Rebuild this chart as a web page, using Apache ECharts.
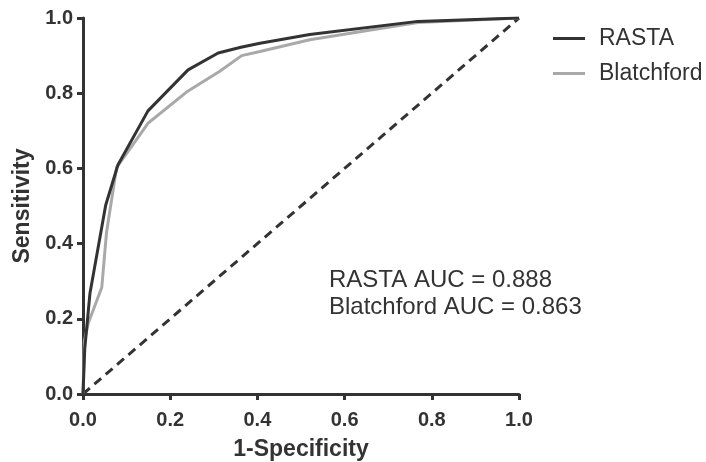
<!DOCTYPE html>
<html>
<head>
<meta charset="utf-8">
<script src="https://cdn.jsdelivr.net/npm/echarts@6/dist/echarts.min.js"></script>
<style>
  html, body { margin: 0; padding: 0; background: #fff; }
  #chart { width: 706px; height: 462px; }
</style>
</head>
<body>
<div id="chart"></div>
<script>
// ROC curves: 1-specificity (x) vs sensitivity (y)
const rastaX = [0, 0.004, 0.016, 0.052, 0.080, 0.149, 0.241, 0.310, 0.362, 0.406, 0.520, 0.768, 1.0];
const rastaY = [0, 0.120, 0.268, 0.502, 0.609, 0.753, 0.862, 0.907, 0.922, 0.933, 0.956, 0.991, 1.0];

const blatchX = [0, 0.003, 0.012, 0.043, 0.054, 0.077, 0.149, 0.241, 0.312, 0.364, 0.406, 0.520, 0.768, 1.0];
const blatchY = [0, 0.140, 0.188, 0.283, 0.430, 0.602, 0.720, 0.806, 0.857, 0.900, 0.911, 0.942, 0.988, 1.0];

const refX = [0, 1];
const refY = [0, 1];

const tickValues = [0, 0.2, 0.4, 0.6, 0.8, 1.0];
const aucLines = ['RASTA AUC = 0.888', 'Blatchford AUC = 0.863'];

const dark = '#333333';
const grey = '#a9a9a9';
const font = "'Liberation Sans', Arial, Helvetica, sans-serif";

const pairs = (xs, ys) => xs.map((x, i) => [x, ys[i]]);

const axisCommon = {
  type: 'value',
  min: 0,
  max: 1,
  interval: 0.2,
  nameLocation: 'middle',
  nameTextStyle: { fontFamily: font, fontSize: 23, fontWeight: 'bold', color: dark },
  axisLine: { show: true, lineStyle: { color: dark, width: 3 } },
  axisTick: { show: true, inside: false, length: 6, lineStyle: { color: dark, width: 3 } },
  axisLabel: {
    fontFamily: font, fontSize: 20, fontWeight: 'bold', color: dark,
    formatter: v => tickValues.some(t => Math.abs(t - v) < 1e-9) ? v.toFixed(1) : ''
  },
  splitLine: { show: false }
};

const chart = echarts.init(document.getElementById('chart'), null, { renderer: 'canvas' });
chart.setOption({
  animation: false,
  backgroundColor: '#ffffff',
  grid: { left: 83, right: 187, top: 18, bottom: 68, containLabel: false, outerBoundsMode: 'none' },
  xAxis: Object.assign({}, axisCommon, {
    name: '1-Specificity', nameGap: 44,
    axisLabel: Object.assign({}, axisCommon.axisLabel, { margin: 16 })
  }),
  yAxis: Object.assign({}, axisCommon, {
    name: 'Sensitivity', nameGap: 47, nameRotate: 90,
    axisLabel: Object.assign({}, axisCommon.axisLabel, { margin: 10 })
  }),
  legend: {
    data: ['RASTA', 'Blatchford'],
    orient: 'vertical',
    left: 548,
    top: 22,
    icon: 'rect',
    itemWidth: 32,
    itemHeight: 3,
    itemGap: 12,
    textStyle: { fontFamily: font, fontSize: 23, lineHeight: 23, color: dark, padding: [0, 0, 0, 9] }
  },
  series: [
    {
      name: 'RASTA', type: 'line', data: pairs(rastaX, rastaY),
      symbol: 'none', z: 4,
      lineStyle: { color: dark, width: 3 }, itemStyle: { color: dark }
    },
    {
      name: 'Blatchford', type: 'line', data: pairs(blatchX, blatchY),
      symbol: 'none', z: 3,
      lineStyle: { color: grey, width: 3 }, itemStyle: { color: grey }
    },
    {
      name: 'Reference', type: 'line', data: pairs(refX, refY),
      symbol: 'none', z: 2,
      lineStyle: { color: dark, width: 3, type: [9, 6] }, itemStyle: { color: dark }
    }
  ],
  graphic: [
    {
      type: 'text', left: 329, top: 267,
      style: { text: aucLines.join('\n'), font: "24px " + font, fill: dark, lineHeight: 27 }
    }
  ]
});
</script>
</body>
</html>
